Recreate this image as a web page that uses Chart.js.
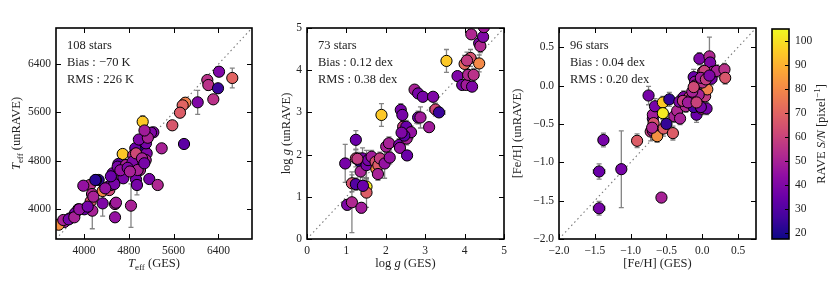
<!DOCTYPE html>
<html>
<head>
<meta charset="utf-8">
<script src="https://cdn.jsdelivr.net/npm/chart.js@4.4.1/dist/chart.umd.min.js"></script>
<style>
  body { margin: 0; background: #fff; }
  #wrap { position: relative; width: 830px; height: 284px; }
  #wrap canvas { position: absolute; left: 0; top: 0; }
</style>
</head>
<body>
<div id="wrap">
  <canvas id="teff" width="830" height="284"></canvas>
  <canvas id="logg" width="830" height="284"></canvas>
  <canvas id="feh" width="830" height="284"></canvas>
  <canvas id="cbar" width="830" height="284"></canvas>
</div>
<script>
// ---- data ----
const teffTicks = [4000, 4800, 5600, 6400];
const loggTicks = [0, 1, 2, 3, 4, 5];
const fehTicks = [-2.0, -1.5, -1.0, -0.5, 0.0, 0.5];
const snrTicks = [20, 30, 40, 50, 60, 70, 80, 90, 100];

const teffGes  = [6411,6648,6202,6220,6393,6309,6030,5809,5762,5714,5577,5048,5786,5387,5238,5161,5059,4916,4691,4691,4613,5119,5102,4880,4880,5166,5316,5000,4923,4851,4702,4524,4434,4333,4262,4214,4107,3988,4143,4119,4333,4554,4554,4839,4148,4006,3898,3839,3750,3648,3548,3630,3727,3827,3916,4066,4167,4452,4482,4571,4929,4202,4541,4512,4601,4750,4868,4929,4958,5036,5077,5107,5196,4946,4380,4480,4650,4780,4980,5140,5080,4820];
const teffRave = [6275,6171,6137,6054,6000,5817,5767,5761,5717,5595,5386,5446,5076,5004,5270,5253,5031,5004,4910,4606,4744,4922,4810,4888,4756,4495,4396,4645,4590,4723,4507,4451,4368,4296,4479,4479,4396,4384,4246,4124,4091,4080,3860,4053,3970,3993,3993,3926,3843,3782,3737,3815,3826,3860,3993,4037,4202,4312,4396,4102,4489,4479,4412,4590,4700,4728,4783,4921,4645,4838,4756,5087,5263,4396,4340,4540,4640,4680,5150,5180,5300,4620];
const teffSnr  = [40,70,55,55,25,55,40,78,70,68,66,95,32,50,40,45,22,35,95,102,32,40,50,55,60,38,52,52,38,50,38,50,52,80,22,28,55,45,52,66,40,50,45,50,50,35,55,38,38,48,82,50,38,50,45,38,50,62,38,48,38,22,38,38,38,50,40,62,50,50,38,38,40,38,45,35,45,40,40,50,48,50];
const teffErrX = [60,60,60,60,60,60,60,60,60,60,60,50,70,60,60,60,60,60,60,60,60,60,60,60,60,60,60,60,60,60,60,60,60,60,60,60,60,60,60,60,60,60,60,60,60,60,60,60,60,60,60,60,60,60,60,60,60,60,60,60,60,60,60,60,60,60,60,60,60,60,60,60,60,60,60,60,60,60,60,60,60,60];
const teffErrY = [60,165,60,90,60,50,200,80,80,70,50,100,50,50,60,60,80,165,60,60,60,60,60,60,60,60,60,60,60,60,60,60,60,60,70,70,60,60,60,60,210,60,60,360,300,60,60,60,60,60,60,60,60,60,60,60,60,60,60,60,120,60,60,60,60,60,60,60,60,60,60,60,60,165,60,60,60,60,60,60,60,60];

const loggGes  = [0.97,1.02,1.14,1.14,1.24,1.24,1.24,1.34,1.36,1.38,1.41,1.51,1.51,1.51,1.42,1.55,1.64,1.74,1.76,1.81,1.85,1.80,1.89,1.97,2.01,2.08,2.10,2.34,2.36,2.38,2.42,2.44,2.48,2.52,2.53,2.54,2.64,2.47,2.73,2.82,2.94,2.82,2.88,3.10,3.20,3.26,3.35,3.54,3.82,3.94,4.05,4.19,4.00,4.09,4.15,4.23,4.06,4.37,4.17,4.37,4.40,4.47,4.49,2.40,1.28];
const loggRave = [1.79,0.81,0.87,1.32,2.35,1.91,1.30,1.84,1.60,0.74,1.91,1.75,1.24,1.10,1.26,1.87,1.95,1.83,1.66,1.75,1.91,1.54,2.94,1.79,2.19,2.27,1.93,2.23,2.16,3.06,2.94,2.66,2.50,2.66,2.38,1.98,2.53,2.45,3.54,3.45,3.37,2.88,2.88,2.65,3.37,3.07,3.00,4.22,3.86,3.65,3.65,3.61,4.15,3.89,4.29,3.89,4.23,4.16,4.85,4.64,4.57,4.79,5.02,2.52,1.90];
const loggSnr  = [38,40,52,65,35,62,30,22,50,48,38,38,102,68,35,38,48,65,82,68,58,50,95,45,50,50,45,38,45,38,38,58,38,35,50,35,45,32,50,38,38,35,48,48,40,62,25,95,40,38,48,40,72,52,65,55,58,80,52,40,52,40,48,40,58];
const loggErrX = [0.08,0.08,0.08,0.08,0.08,0.08,0.08,0.08,0.08,0.08,0.08,0.08,0.08,0.08,0.08,0.08,0.08,0.08,0.08,0.08,0.08,0.08,0.08,0.08,0.08,0.08,0.08,0.08,0.08,0.08,0.08,0.08,0.08,0.08,0.08,0.12,0.08,0.08,0.08,0.08,0.08,0.08,0.08,0.08,0.08,0.15,0.15,0.08,0.08,0.08,0.08,0.08,0.08,0.08,0.08,0.08,0.08,0.08,0.08,0.08,0.08,0.08,0.08,0.08,0.08];
const loggErrY = [0.45,0.12,0.72,0.20,0.22,0.20,0.15,0.20,0.25,0.12,0.25,0.35,0.20,0.35,0.20,0.15,0.15,0.15,0.15,0.15,0.15,0.15,0.27,0.35,0.15,0.15,0.15,0.15,0.10,0.15,0.15,0.15,0.15,0.15,0.15,0.10,0.15,0.15,0.10,0.10,0.10,0.15,0.25,0.10,0.10,0.15,0.10,0.27,0.10,0.10,0.10,0.10,0.20,0.20,0.20,0.15,0.20,0.20,0.10,0.15,0.15,0.10,0.10,0.15,0.15];

const fehGes  = [-1.44,-1.44,-1.38,-1.13,-0.91,-0.57,-0.75,-0.72,-0.69,-0.69,-0.69,-0.68,-0.66,-0.63,-0.55,-0.55,-0.54,-0.50,-0.46,-0.41,-0.39,-0.35,-0.32,-0.31,-0.26,-0.23,-0.19,-0.18,-0.15,-0.12,-0.10,-0.10,-0.08,-0.06,-0.12,-0.04,-0.01,0.01,-0.01,0.04,0.07,0.06,0.10,0.11,0.13,0.15,0.20,0.31,0.32,-0.08,0.03,-0.02,-0.05,-0.27,-0.14,0.00,-0.02,0.05,-0.20,-0.70,-0.08,0.10,-0.12];
const fehRave = [-1.60,-1.12,-0.71,-1.09,-0.72,-1.46,-0.13,-0.60,-0.43,-0.38,-0.59,-0.49,-0.27,-0.66,-0.22,-0.36,-0.56,-0.50,-0.18,-0.62,-0.40,-0.33,-0.21,-0.43,-0.15,-0.27,-0.18,-0.15,-0.17,0.11,0.05,0.00,-0.38,-0.27,-0.28,0.35,0.09,0.18,-0.30,-0.14,-0.05,-0.30,0.38,0.30,0.09,0.18,0.19,0.21,0.10,-0.10,0.19,-0.28,-0.12,-0.20,-0.08,0.04,0.10,0.08,-0.22,-0.55,-0.22,0.13,-0.02];
const fehSnr  = [38,35,38,38,68,50,38,58,35,48,48,65,38,82,95,102,68,24,24,68,50,52,40,50,40,52,52,58,50,35,45,50,35,58,28,40,50,65,58,58,78,38,52,40,38,50,50,55,66,50,60,38,50,58,50,55,48,58,48,52,60,40,62];
const fehErrX = [0.08,0.08,0.07,0.06,0.05,0.05,0.05,0.05,0.05,0.05,0.05,0.05,0.05,0.05,0.05,0.05,0.05,0.05,0.05,0.05,0.05,0.05,0.05,0.05,0.05,0.05,0.05,0.05,0.05,0.05,0.05,0.05,0.05,0.05,0.05,0.05,0.05,0.05,0.05,0.05,0.05,0.05,0.05,0.05,0.05,0.05,0.05,0.05,0.05,0.05,0.05,0.05,0.05,0.05,0.05,0.05,0.05,0.05,0.05,0.05,0.05,0.05,0.05];
const fehErrY = [0.09,0.10,0.09,0.50,0.09,0.03,0.12,0.12,0.10,0.10,0.12,0.10,0.10,0.08,0.08,0.08,0.10,0.08,0.09,0.09,0.08,0.08,0.08,0.08,0.08,0.08,0.08,0.08,0.08,0.10,0.08,0.08,0.10,0.08,0.08,0.08,0.08,0.08,0.08,0.08,0.08,0.08,0.25,0.08,0.08,0.08,0.08,0.08,0.08,0.08,0.08,0.08,0.08,0.08,0.08,0.08,0.08,0.08,0.08,0.10,0.08,0.08,0.08];

// ---- helpers ----
const FONT = "'Liberation Serif', 'DejaVu Serif', serif";
const INK = '#222';
const SNR_MIN = 17.5, SNR_MAX = 105;

const plasmaStops = ['#0d0887','#41049d','#6a00a8','#8f0da4','#b12a90','#cc4778','#e16462','#f2844b','#fca636','#fcce25','#f0f921'];
function hexRgb(h) { return [1, 3, 5].map(i => parseInt(h.substr(i, 2), 16)); }
function plasma(t) {
  t = Math.max(0, Math.min(1, t));
  const p = t * 10, i = Math.min(9, Math.floor(p)), f = p - i;
  const a = hexRgb(plasmaStops[i]), b = hexRgb(plasmaStops[i + 1]);
  const c = a.map((v, k) => Math.round(v + (b[k] - v) * f));
  return `rgb(${c[0]},${c[1]},${c[2]})`;
}
const snrColor = v => plasma((v - SNR_MIN) / (SNR_MAX - SNR_MIN));

// draw text made of pieces: ['text', style] with style '', 'i', 'sub', 'sup'
function richText(ctx, parts, x, y, size, rotate) {
  const fontOf = s => (s === 'i' ? 'italic ' : '') + ((s === 'sub' || s === 'sup') ? size * 0.72 : size) + 'px ' + FONT;
  let total = 0;
  parts.forEach(p => { ctx.font = fontOf(p[1]); total += ctx.measureText(p[0]).width; });
  ctx.save();
  ctx.translate(x, y);
  if (rotate) ctx.rotate(rotate);
  ctx.fillStyle = INK;
  ctx.textBaseline = 'middle';
  ctx.textAlign = 'left';
  let cx = -total / 2;
  parts.forEach(p => {
    ctx.font = fontOf(p[1]);
    const dy = p[1] === 'sub' ? size * 0.28 : p[1] === 'sup' ? -size * 0.32 : 0;
    ctx.fillText(p[0], cx, dy);
    cx += ctx.measureText(p[0]).width;
  });
  ctx.restore();
}

function inwardTicks(ctx, scale, values, area, horizontal, len) {
  values.forEach(v => {
    const p = Math.round(scale.getPixelForValue(v)) + 0.5;
    ctx.beginPath();
    if (horizontal) {
      ctx.moveTo(p, area.bottom); ctx.lineTo(p, area.bottom - len);
      ctx.moveTo(p, area.top); ctx.lineTo(p, area.top + len);
    } else {
      ctx.moveTo(area.left, p); ctx.lineTo(area.left + len, p);
      ctx.moveTo(area.right, p); ctx.lineTo(area.right - len, p);
    }
    ctx.stroke();
  });
}

const panelPlugin = {
  id: 'panel',
  beforeDatasetsDraw(chart, args, o) {
    const ctx = chart.ctx, a = chart.chartArea;
    const xs = chart.scales.x, ys = chart.scales.y;
    ctx.save();
    ctx.beginPath(); ctx.rect(a.left, a.top, a.right - a.left, a.bottom - a.top); ctx.clip();
    ctx.strokeStyle = 'rgba(110,110,110,0.85)';
    ctx.lineWidth = 1.3;
    o.gx.forEach((gx, i) => {
      const px = xs.getPixelForValue(gx), py = ys.getPixelForValue(o.gy[i]);
      const x0 = xs.getPixelForValue(gx - o.ex[i]), x1 = xs.getPixelForValue(gx + o.ex[i]);
      const y0 = ys.getPixelForValue(o.gy[i] - o.ey[i]), y1 = ys.getPixelForValue(o.gy[i] + o.ey[i]);
      ctx.beginPath();
      ctx.moveTo(x0, py); ctx.lineTo(x1, py);
      ctx.moveTo(x0, py - 2.5); ctx.lineTo(x0, py + 2.5);
      ctx.moveTo(x1, py - 2.5); ctx.lineTo(x1, py + 2.5);
      ctx.moveTo(px, y0); ctx.lineTo(px, y1);
      ctx.moveTo(px - 2.5, y0); ctx.lineTo(px + 2.5, y0);
      ctx.moveTo(px - 2.5, y1); ctx.lineTo(px + 2.5, y1);
      ctx.stroke();
    });
    ctx.restore();
  },
  afterDraw(chart, args, o) {
    const ctx = chart.ctx, a = chart.chartArea;
    ctx.save();
    ctx.strokeStyle = '#000';
    ctx.lineWidth = 1;
    inwardTicks(ctx, chart.scales.x, o.ticks, a, true, 5);
    inwardTicks(ctx, chart.scales.y, o.ticks, a, false, 5);
    ctx.lineWidth = 1.6;
    ctx.strokeRect(a.left, a.top, a.right - a.left, a.bottom - a.top);
    ctx.fillStyle = INK;
    ctx.font = '12.5px ' + FONT;
    ctx.textBaseline = 'middle';
    ctx.textAlign = 'left';
    o.notes.forEach((t, i) => ctx.fillText(t, a.left + 11, a.top + 18 + i * 17));
    ctx.restore();
    richText(ctx, o.xTitle, (a.left + a.right) / 2, 264, 12.5, 0);
    richText(ctx, o.yTitle, o.yTitleX, (a.top + a.bottom) / 2, 12.5, -Math.PI / 2);
  }
};

function makePanel(id, box, d) {
  const tickFont = { family: FONT, size: 11.5 };
  const axis = (isX) => ({
    type: 'linear', min: d.min, max: d.max,
    grid: { display: false, drawTicks: false },
    border: { display: false },
    ticks: { color: INK, font: tickFont, padding: isX ? 5 : 5, callback: d.fmt },
    afterBuildTicks: s => { s.ticks = d.ticks.map(v => ({ value: v })); },
    afterFit: isX ? (s => { s.height = 284 - box.b; }) : (s => { s.width = box.l; })
  });
  return new Chart(document.getElementById(id), {
    type: 'scatter',
    data: {
      datasets: [
        {
          data: d.gx.map((x, i) => ({ x: x, y: d.gy[i] })),
          pointRadius: 5.6,
          pointBackgroundColor: d.snr.map(snrColor),
          pointBorderColor: '#000',
          pointBorderWidth: 1
        },
        {
          type: 'line',
          data: [{ x: d.min, y: d.min }, { x: d.max, y: d.max }],
          borderColor: '#7a7a7a',
          borderWidth: 1.1,
          borderDash: [1.5, 3],
          pointRadius: 0
        }
      ]
    },
    options: {
      responsive: false,
      animation: false,
      devicePixelRatio: 1,
      events: [],
      layout: { padding: { left: 0, top: box.t, right: 830 - box.r, bottom: 0 } },
      plugins: {
        legend: { display: false },
        tooltip: { enabled: false },
        panel: d
      },
      scales: { x: axis(true), y: axis(false) }
    },
    plugins: [panelPlugin]
  });
}

const signed1 = v => (v < -1e-9 ? '\u2212' : '') + Math.abs(v).toFixed(1);

makePanel('teff', { l: 56, r: 252, t: 28, b: 239 }, {
  gx: teffGes, gy: teffRave, snr: teffSnr, ex: teffErrX, ey: teffErrY,
  min: 3500, max: 7000, ticks: teffTicks, fmt: v => String(v),
  notes: ['108 stars', 'Bias : \u221270 K', 'RMS : 226 K'],
  xTitle: [['T', 'i'], ['eff', 'sub'], [' (GES)', '']],
  yTitle: [['T', 'i'], ['eff', 'sub'], [' (unRAVE)', '']],
  yTitleX: 17
});

makePanel('logg', { l: 307, r: 504, t: 28, b: 239 }, {
  gx: loggGes, gy: loggRave, snr: loggSnr, ex: loggErrX, ey: loggErrY,
  min: 0, max: 5, ticks: loggTicks, fmt: v => String(v),
  notes: ['73 stars', 'Bias : 0.12 dex', 'RMS : 0.38 dex'],
  xTitle: [['log ', ''], ['g', 'i'], [' (GES)', '']],
  yTitle: [['log ', ''], ['g', 'i'], [' (unRAVE)', '']],
  yTitleX: 287
});

makePanel('feh', { l: 559, r: 756, t: 28, b: 239 }, {
  gx: fehGes, gy: fehRave, snr: fehSnr, ex: fehErrX, ey: fehErrY,
  min: -2.0, max: 0.75, ticks: fehTicks, fmt: signed1,
  notes: ['96 stars', 'Bias : 0.04 dex', 'RMS : 0.20 dex'],
  xTitle: [['[Fe/H] (GES)', '']],
  yTitle: [['[Fe/H] (unRAVE)', '']],
  yTitleX: 518
});

// ---- colour bar ----
new Chart(document.getElementById('cbar'), {
  type: 'scatter',
  data: { datasets: [] },
  options: {
    responsive: false,
    animation: false,
    devicePixelRatio: 1,
    events: [],
    layout: { padding: { left: 772, top: 29, right: 0, bottom: 45 } },
    plugins: { legend: { display: false }, tooltip: { enabled: false } },
    scales: {
      x: { display: false, min: 0, max: 1 },
      y: {
        position: 'right', min: SNR_MIN, max: SNR_MAX,
        grid: { display: false, drawTicks: false },
        border: { display: false },
        ticks: { color: INK, font: { family: FONT, size: 11.5 }, padding: 6, crossAlign: 'near' },
        afterBuildTicks: s => { s.ticks = snrTicks.map(v => ({ value: v })); },
        afterFit: s => { s.width = 830 - 789; }
      }
    }
  },
  plugins: [{
    id: 'cbar',
    beforeDraw(chart) {
      const ctx = chart.ctx, a = chart.chartArea, ys = chart.scales.y;
      for (let y = Math.floor(a.top); y < a.bottom; y++) {
        ctx.fillStyle = snrColor(ys.getValueForPixel(y + 0.5));
        ctx.fillRect(a.left, y, a.right - a.left, 1);
      }
    },
    afterDraw(chart) {
      const ctx = chart.ctx, a = chart.chartArea, ys = chart.scales.y;
      ctx.save();
      ctx.strokeStyle = '#000';
      ctx.lineWidth = 1;
      snrTicks.forEach(v => {
        const p = Math.round(ys.getPixelForValue(v)) + 0.5;
        ctx.beginPath(); ctx.moveTo(a.right, p); ctx.lineTo(a.right - 4, p); ctx.stroke();
      });
      ctx.lineWidth = 1.6;
      ctx.strokeRect(a.left, a.top, a.right - a.left, a.bottom - a.top);
      ctx.restore();
      richText(ctx, [['RAVE ', ''], ['S/N', 'i'], [' [pixel', ''], ['\u22121', 'sup'], [']', '']],
        822, (a.top + a.bottom) / 2, 12.5, -Math.PI / 2);
    }
  }]
});
</script>
</body>
</html>
